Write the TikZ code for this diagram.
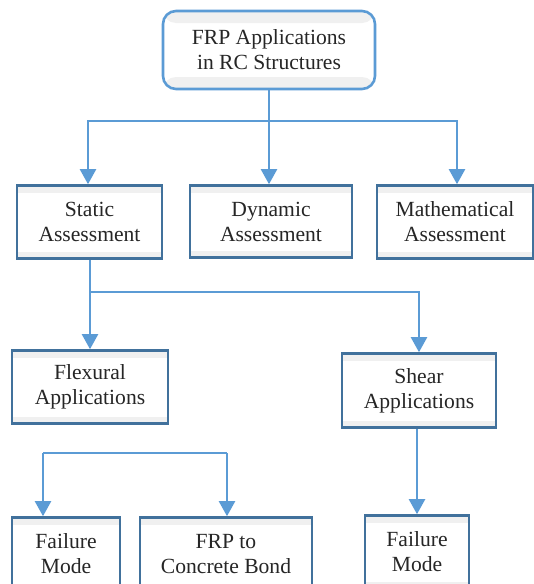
\documentclass[tikz,border=0pt]{standalone}
\usepackage{fontspec}
\setmainfont{Liberation Serif}
\usetikzlibrary{arrows.meta}
\definecolor{boxline}{HTML}{41719C}
\definecolor{arrowblue}{HTML}{5B9BD5}
\definecolor{bandgray}{HTML}{F0F0F0}
\definecolor{txt}{HTML}{262626}
\tikzset{
  box/.style={draw=boxline, line width=2.6pt, fill=white, rectangle,
    text=txt, align=center, inner sep=0pt,
    font=\fontsize{21.6pt}{25pt}\selectfont,
    path picture={
      \fill[bandgray] (path picture bounding box.north west) rectangle ([yshift=-7pt]path picture bounding box.north east);
      \fill[bandgray] (path picture bounding box.south west) rectangle ([yshift=7pt]path picture bounding box.south east);
    }},
  topbox/.style={draw=arrowblue, line width=2.6pt, fill=white, rectangle, rounded corners=13pt,
    text=txt, align=center, inner sep=0pt,
    font=\fontsize{21.6pt}{25pt}\selectfont,
    path picture={
      \fill[bandgray] (path picture bounding box.north west) rectangle ([yshift=-12pt]path picture bounding box.north east);
      \fill[bandgray] (path picture bounding box.south west) rectangle ([yshift=12pt]path picture bounding box.south east);
    }},
  link/.style={draw=arrowblue, line width=2.2pt},
  thinlink/.style={draw=arrowblue, line width=1.3pt},
  arrow/.style={link, -{Triangle[width=16pt,length=15pt]}},
}
\begin{document}
\begin{tikzpicture}[x=1pt,y=-1pt]
\useasboundingbox (0,0) rectangle (534,584);
\clip (0,0) rectangle (534,584);
\fill[white] (0,0) rectangle (534,584);

\node[topbox, minimum width=212pt, minimum height=78pt] (top) at (269,50) {FRP Applications\\in RC Structures};
\node[box, minimum width=145pt, minimum height=73pt] (static) at (89.5,222) {Static\\Assessment};
\node[box, minimum width=162pt, minimum height=72pt] (dynamic) at (271,221.5) {Dynamic\\Assessment};
\node[box, minimum width=156pt, minimum height=73pt] (math) at (455,222) {Mathematical\\Assessment};
\node[box, minimum width=156pt, minimum height=73pt] (flex) at (90,387) {Flexural\\Applications};
\node[box, minimum width=154pt, minimum height=74pt] (shear) at (419,390.5) {Shear\\Applications};
\node[box, minimum width=104pt, minimum height=73pt] (fm2) at (417,552) {Failure\\Mode};
\node[box, minimum width=108pt, minimum height=73pt] (fm1) at (66,554) {Failure\\Mode};
\node[box, minimum width=172pt, minimum height=73pt] (bond) at (226,554) {FRP to\\Concrete Bond};

% top level
\coordinate (j1) at (269,121);
\draw[arrow] (top.south) -- (top.south |- dynamic.north);
\draw[arrow] (j1) -| (88,0 |- static.north);
\draw[arrow] (j1) -| (457,0 |- math.north);

% static
\coordinate (j2) at (90,292);
\draw[link] (j2 |- static.south) -- (j2);
\draw[arrow] (j2) -| (flex.north);
\draw[arrow] (j2) -| (shear.north);

% shear
\draw[arrow] (shear.south -| fm2.north) -- (fm2.north);

% flexural sub-branch
\coordinate (j3a) at (43,453);
\coordinate (j3b) at (227,453);
\draw[thinlink] (j3a) -- (j3b);
\draw[arrow] (j3a) -- (j3a |- fm1.north);
\draw[arrow] (j3b) -- (j3b |- bond.north);
\end{tikzpicture}
\end{document}
